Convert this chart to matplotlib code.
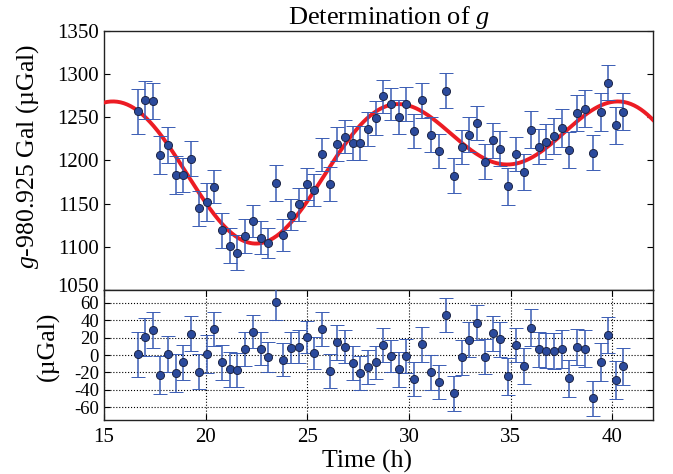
import matplotlib
matplotlib.use('Agg')  # headless
import matplotlib.pyplot as plt
import matplotlib.transforms as mtransforms
import numpy as np

# ── data ──
time_h = [16.66, 17.0, 17.39, 17.78, 18.16, 18.54, 18.91, 19.27, 19.68, 20.06,
          20.43, 20.81, 21.19, 21.56, 21.94, 22.31, 22.71, 23.08, 23.46, 23.83,
          24.21, 24.58, 24.98, 25.33, 25.71, 26.10, 26.48, 26.85, 27.23, 27.61,
          28.0, 28.37, 28.75, 29.13, 29.5, 29.88, 30.25, 30.65, 31.09, 31.48,
          31.85, 32.23, 32.61, 32.98, 33.37, 33.75, 34.13, 34.5, 34.89, 35.27,
          35.65, 36.02, 36.4, 36.77, 37.15, 37.52, 37.9, 38.27, 38.67, 39.04,
          39.44, 39.81, 40.17, 40.55]
g_ugal = [1257, 1270.6, 1268.6, 1205.8, 1218.3, 1183.7, 1183.3, 1202.3, 1144.5, 1152,
          1169.8, 1119, 1101.5, 1093.4, 1112.4, 1129.9, 1110.8, 1104.7, 1174, 1114,
          1137.2, 1149.2, 1172.9, 1165.5, 1207, 1172.9, 1219, 1227.6, 1220.6, 1219.8,
          1236, 1249.2, 1274.4, 1265.5, 1250.4, 1265.5, 1234.5, 1269.8, 1229.9, 1210.8,
          1281, 1182.2, 1215.9, 1229.9, 1243.4, 1198.8, 1223.3, 1213.6, 1170.1, 1207.3,
          1186.4, 1235.7, 1215.9, 1221.7, 1228.3, 1238, 1212, 1255, 1260.1, 1209,
          1256.2, 1290.3, 1240.7, 1256.6]
err_ugal = [26, 22, 21, 22, 21, 22, 20, 20, 20, 22,
            19.6, 20, 20.5, 20, 19.4, 19, 19, 17.4, 21.3, 18.8,
            18.2, 18.8, 18.4, 18.6, 19.6, 19.6, 19.8, 18.8, 19.6, 19.6,
            19.6, 19.2, 19.2, 18.6, 20, 20, 19.6, 20, 20, 19.6,
            20, 20.2, 20, 20.5, 20.2, 19.8, 20.3, 20.3, 21.3, 19.8,
            21.1, 21.5, 20.5, 20, 21.1, 22, 21, 21, 21.7, 20.5,
            21.7, 20.7, 21.5, 21.3]
resid_ugal = [1, 21, 29, -23.5, 1, -21, -8.5, 24.7, -19.3, 1,
              30.4, -8.5, -16.6, -17.3, 6.9, 26.6, 7.3, -1.9, 61.6, -5.4,
              8.5, 9.6, 21.2, 1.9, 30, -18.1, 14.6, 9.6, -9.2, -21.2,
              -14.3, -8.5, 11.6, -0.8, -16.6, -1.2, -27.4, 12.3, -20.1, -31.2,
              46.2, -44.3, -2.7, 17.7, 37.4, -1.9, 25, 18.1, -24.7, 11.2,
              -12.7, 31.6, 6.6, 5, 4.6, 6.6, -27, 8.9, 7.3, -50,
              -8.1, 22.7, -28.9, -13.1]

# tidal fit: offset + semidiurnal + diurnal term (amplitude, phase time, period)
FIT_OFFSET = 1205.9
FIT_TERMS = [(56.33, 3.821, 12.42), (45.82, 10.164, 24.84)]

def tide_fit(tt):
    y = np.full_like(tt, FIT_OFFSET)
    for amp, t0, per in FIT_TERMS:
        y += amp * np.cos(2 * np.pi * (tt - t0) / per)
    return y

# ── style ──
plt.rcParams['font.family'] = ['Liberation Serif', 'DejaVu Serif']
plt.rcParams['mathtext.fontset'] = 'custom'
plt.rcParams['mathtext.it'] = 'Liberation Serif:italic'
plt.rcParams['mathtext.rm'] = 'Liberation Serif'
plt.rcParams['axes.unicode_minus'] = False

DOT = '#2b4a9c'
BAR = '#3a5cb4'
RED = '#ec1c24'
EB = dict(fmt='o', color=BAR, ecolor=BAR, elinewidth=1.1, capsize=5, capthick=1.1,
          ms=5.8, mfc=DOT, mec='#1c2546', mew=0.7, zorder=4)

fig = plt.figure(figsize=(6.73, 4.74), dpi=100)
ax1 = fig.add_axes([0.1545, 0.3882, 0.8155, 0.5464])
ax2 = fig.add_axes([0.1545, 0.1139, 0.8155, 0.2743], sharex=ax1)

tt = np.linspace(15, 42, 500)
ax1.plot(tt, tide_fit(tt), color=RED, lw=2.8, zorder=3)
ax1.errorbar(time_h, g_ugal, yerr=err_ugal, **EB)
ax1.set_xlim(15, 42)
ax1.set_ylim(1050, 1350)
ax1.set_yticks(np.arange(1050, 1351, 50))
ax1.tick_params(axis='y', direction='in', left=True, right=True, labelsize=15, length=4)
ax1.tick_params(axis='x', bottom=False, top=False, labelbottom=False)
ax1.set_ylabel(r'$g$-980.925 Gal (µGal)', fontsize=18.5)
ax1.yaxis.set_label_coords(-0.115, 0.515)
ax1.set_title(r'Determination of $g$', fontsize=19, pad=3, x=0.519)

ax2.errorbar(time_h, resid_ugal, yerr=err_ugal, **EB)
ax2.set_ylim(-75, 75)
ax2.set_yticks(np.arange(-60, 61, 20))
ax2.set_xticks(np.arange(15, 41, 5))
ax2.grid(True, ls=':', color='black', lw=0.8)
ax2.tick_params(direction='in', left=True, right=True, top=True, bottom=True,
                labelsize=13.5, length=4)
ax2.tick_params(axis='x', labelsize=15, pad=6)
ax2.set_ylabel('(µGal)', fontsize=18.5)
ax2.yaxis.set_label_coords(-0.081, 0.57)
ax2.set_xlabel('Time (h)', fontsize=18.5, labelpad=2, x=0.48)

# lift the lowest label of the upper panel so it clears the "60" below it
fig.canvas.draw()
lab_low = ax1.get_yticklabels()[0]
lab_low.set_transform(lab_low.get_transform() + mtransforms.ScaledTranslation(0, 3.6 / 72, fig.dpi_scale_trans))

for ax in (ax1, ax2):
    for sp in ax.spines.values():
        sp.set_linewidth(1.0)
        sp.set_color('#222222')

fig.savefig('out.png', dpi=100)
